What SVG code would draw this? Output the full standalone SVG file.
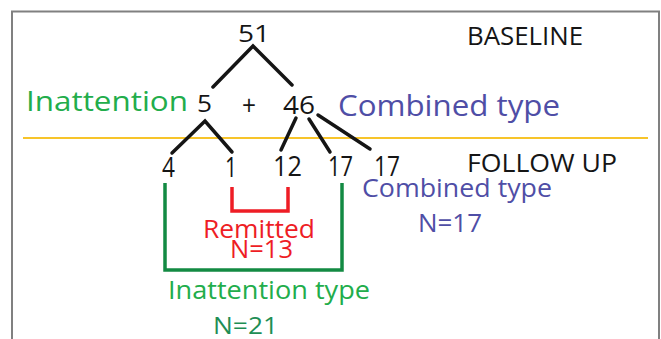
<svg xmlns="http://www.w3.org/2000/svg" width="661" height="339" viewBox="0 0 661 339">
<style>
text{font-family:"Open Sans","Noto Sans","DejaVu Sans",sans-serif;}
.k{fill:#151515;}
.g{fill:#22AD4B;}
.dg{fill:#1E8E55;}
.b{fill:#4F4EA6;}
.r{fill:#EE1D25;}
.br{fill:none;stroke:#151515;stroke-width:3.5;stroke-linecap:round;}
</style>
<rect x="12" y="11.5" width="647" height="340" fill="#ffffff" stroke="#808080" stroke-width="2"/>
<line x1="23" y1="138" x2="648" y2="138" stroke="#F7C42A" stroke-width="2"/>
<g id="connectors">
<path class="br" d="M213 87 L253 46 L292 85"/>
<path class="br" d="M172 153 L205 121 L232 152"/>
<path class="br" d="M296 118 L281 150"/>
<path class="br" d="M309 119 L330 152"/>
<path class="br" d="M318 115 L370 149"/>
<path d="M232 187 V211 H288 V187" fill="none" stroke="#EE1D25" stroke-width="3.5"/>
<path d="M165 183 V270 H342 V183" fill="none" stroke="#138A43" stroke-width="3.5"/>
</g>
<g id="n51"><text class="k" x="238" y="42" font-size="24" textLength="32" lengthAdjust="spacingAndGlyphs">51</text></g>
<g id="baseline"><text class="k" x="467" y="45" font-size="25" textLength="116" lengthAdjust="spacingAndGlyphs">BASELINE</text></g>
<g id="inattention"><text class="g" x="26" y="111" font-size="28" textLength="162" lengthAdjust="spacingAndGlyphs">Inattention</text></g>
<g id="n5"><text class="k" x="197" y="112" font-size="24" textLength="15" lengthAdjust="spacingAndGlyphs">5</text></g>
<g id="plus"><text class="k" x="242" y="115" font-size="28" textLength="14" lengthAdjust="spacingAndGlyphs">+</text></g>
<g id="n46"><text class="k" x="283" y="114" font-size="25" textLength="32" lengthAdjust="spacingAndGlyphs">46</text></g>
<g id="combined"><text class="b" x="338" y="116" font-size="29" textLength="222" lengthAdjust="spacingAndGlyphs">Combined type</text></g>
<g id="n4"><text class="k" x="162" y="177" font-size="27" textLength="13" lengthAdjust="spacingAndGlyphs">4</text></g>
<g id="n1"><text class="k" x="225" y="177" font-size="27" textLength="12" lengthAdjust="spacingAndGlyphs">1</text></g>
<g id="n12"><text class="k" x="273" y="176" font-size="27" textLength="29" lengthAdjust="spacingAndGlyphs">12</text></g>
<g id="n17a"><text class="k" x="328" y="176" font-size="27" textLength="25" lengthAdjust="spacingAndGlyphs">17</text></g>
<g id="n17b"><text class="k" x="374" y="176" font-size="27" textLength="26" lengthAdjust="spacingAndGlyphs">17</text></g>
<g id="followup"><text class="k" x="467" y="172" font-size="26" textLength="150" lengthAdjust="spacingAndGlyphs">FOLLOW UP</text></g>
<g id="remitted">
<text class="r" x="203" y="238" font-size="25" textLength="112" lengthAdjust="spacingAndGlyphs">Remitted</text>
<text class="r" x="230" y="258" font-size="26" textLength="63" lengthAdjust="spacingAndGlyphs">N=13</text>
</g>
<g id="inatt-type">
<text class="g" x="168" y="299" font-size="25" textLength="202" lengthAdjust="spacingAndGlyphs">Inattention type</text>
<text class="dg" x="213" y="334" font-size="24" textLength="65" lengthAdjust="spacingAndGlyphs">N=21</text>
</g>
<g id="comb-type">
<text class="b" x="362" y="197" font-size="25" textLength="190" lengthAdjust="spacingAndGlyphs">Combined type</text>
<text class="b" x="418" y="232" font-size="25" textLength="64" lengthAdjust="spacingAndGlyphs">N=17</text>
</g>
</svg>
